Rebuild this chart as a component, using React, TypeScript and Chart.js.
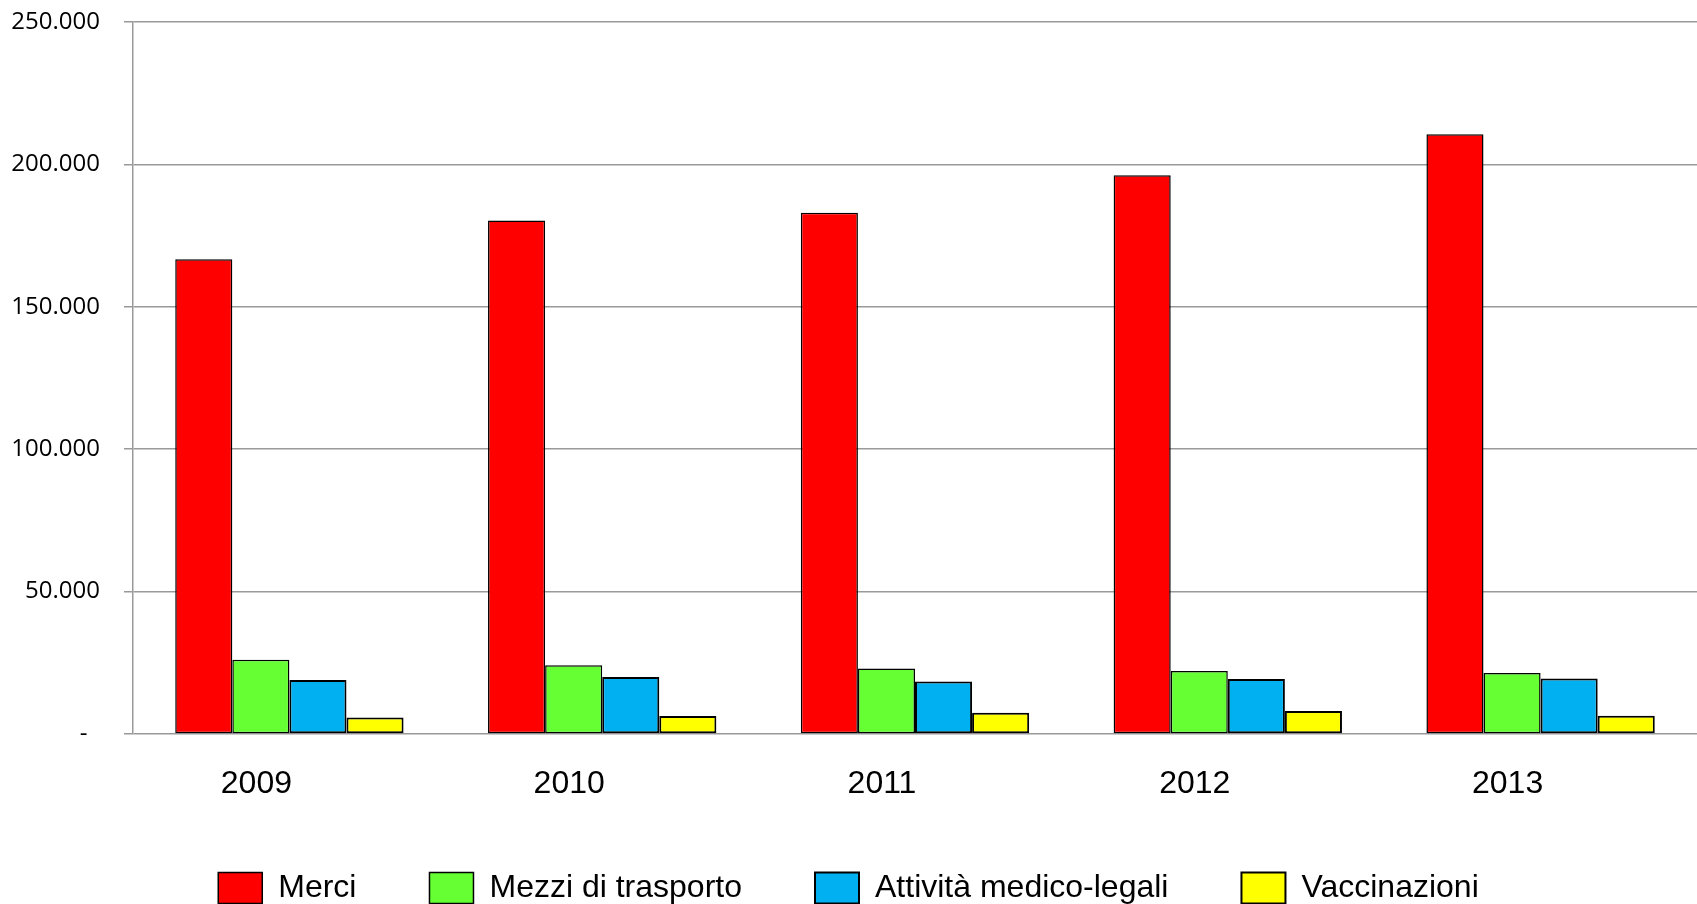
import React, { useEffect, useRef } from "react";
import { Chart, registerables } from "chart.js";

Chart.register(...registerables);

const years = ["2009", "2010", "2011", "2012", "2013"];
const merci = [166700, 180300, 183000, 196200, 210600];
const mezziDiTrasporto = [26100, 24100, 23000, 22100, 21400];
const attivitaMedicoLegali = [19000, 20000, 18400, 19300, 19500];
const vaccinazioni = [5800, 6300, 7500, 8100, 6400];
const yTicks = [0, 50000, 100000, 150000, 200000, 250000];

const LEGEND_PAD = 73;

function fmt(v: number): string {
  if (v === 0) return "-  ";
  return String(v).replace(/\B(?=(\d{3})+(?!\d))/g, ".");
}

export default function App() {
  const ref = useRef<HTMLCanvasElement | null>(null);
  useEffect(() => {
    if (!ref.current) return;
    const sans = "'Liberation Sans', Arial, sans-serif";
    const ds = (label: string, data: number[], color: string, bw: number) => ({
      label,
      data,
      backgroundColor: color,
      borderColor: "#000000",
      borderWidth: bw,
      borderSkipped: false as const,
      barPercentage: 1,
      categoryPercentage: 0.73,
    });
    const chart = new Chart(ref.current, {
      type: "bar",
      data: {
        labels: years,
        datasets: [
          ds("Merci", merci, "#FF0000", 1.5),
          ds("Mezzi di trasporto", mezziDiTrasporto, "#66FF33", 1.5),
          ds("Attività medico-legali", attivitaMedicoLegali, "#00B0F0", 2),
          ds("Vaccinazioni", vaccinazioni, "#FFFF00", 2),
        ],
      },
      options: {
        animation: false,
        responsive: true,
        maintainAspectRatio: false,
        layout: { padding: { top: 22, left: 0, right: 0, bottom: 0 } },
        plugins: {
          tooltip: { enabled: false },
          legend: {
            position: "bottom",
            maxHeight: LEGEND_PAD + 32,
            labels: {
              boxWidth: 44,
              boxHeight: 31,
              padding: LEGEND_PAD,
              color: "#000000",
              font: { family: sans, size: 32 },
            },
          },
        },
        scales: {
          x: {
            grid: { display: false, drawTicks: false },
            border: { display: false },
            ticks: {
              color: "#000000",
              padding: 36,
              labelOffset: -33,
              font: { family: sans, size: 32, lineHeight: 0.9 },
            },
            afterFit: (scale: any) => {
              scale.height = 65;
              scale.paddingTop = 0;
              scale.paddingBottom = 0;
            },
          },
          y: {
            min: 0,
            max: 250000,
            afterBuildTicks: (scale: any) => {
              scale.ticks = yTicks.map((v) => ({ value: v }));
            },
            grid: {
              color: "#999999",
              lineWidth: 1.5,
              tickLength: 9,
              drawTicks: true,
            },
            border: { display: true, color: "#999999", width: 1.5 },
            ticks: {
              color: "#000000",
              padding: 24,
              font: { family: "'Open Sans', sans-serif", size: 24 },
              callback: (v: any) => fmt(Number(v)),
            },
            afterFit: (scale: any) => {
              scale.width = 133;
              scale.paddingTop = 0;
              scale.paddingBottom = 0;
            },
          },
        },
      },
    });
    return () => chart.destroy();
  }, []);
  return (
    <div
      style={{
        position: "fixed",
        left: 0,
        top: 0,
        width: 1697,
        height: 904,
        background: "#ffffff",
      }}
    >
      <canvas ref={ref} />
    </div>
  );
}
